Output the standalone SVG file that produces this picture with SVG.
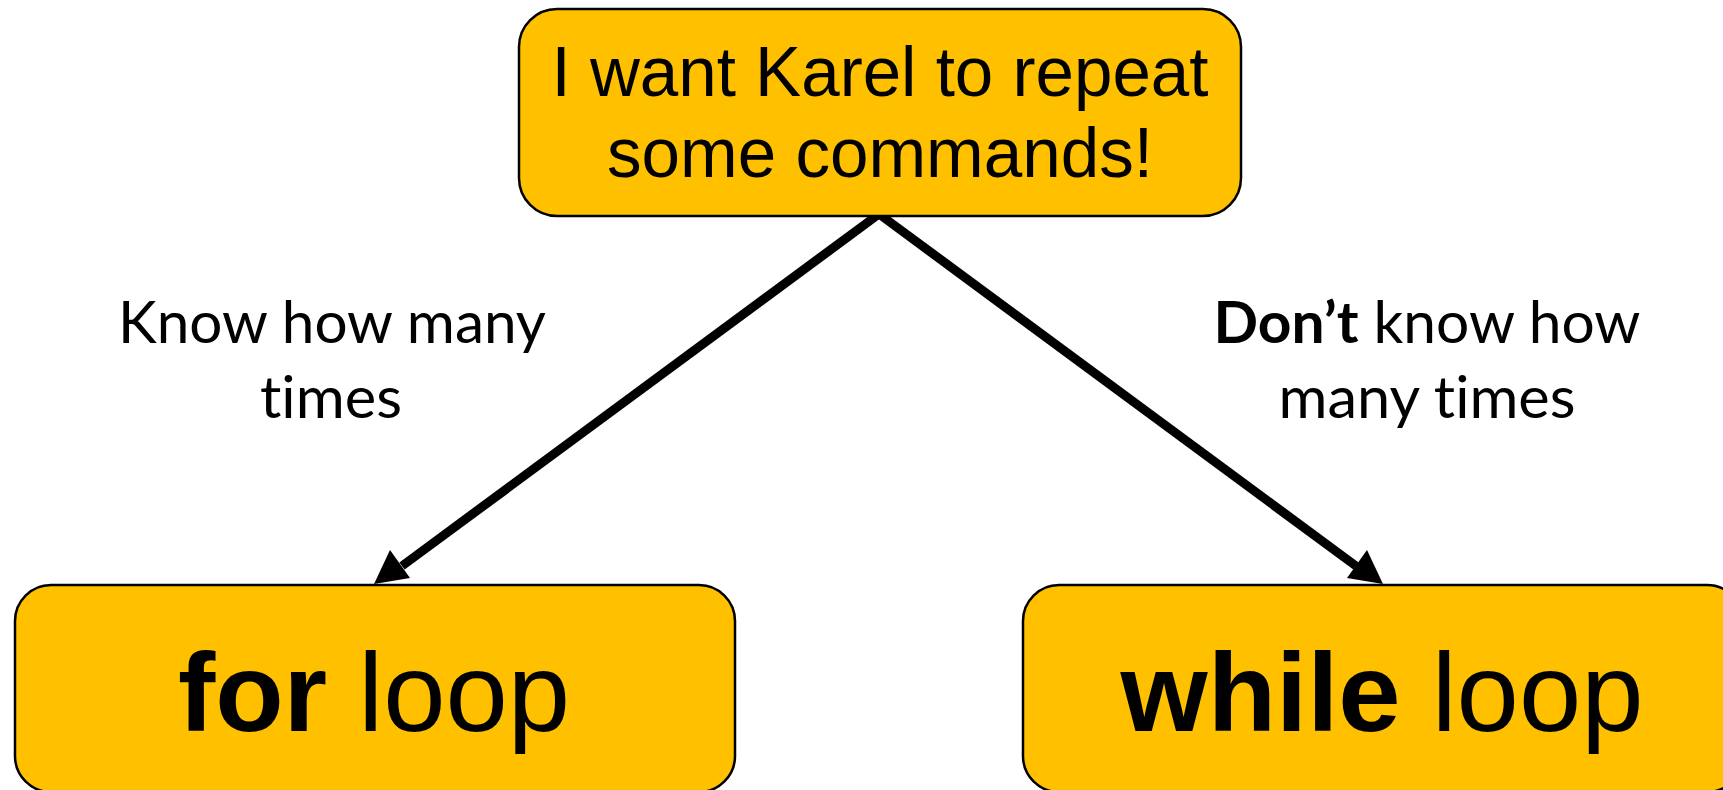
<svg xmlns="http://www.w3.org/2000/svg" width="1723" height="790" viewBox="0 0 1723 790">
<style>
.box{fill:#FFC000;stroke:#000;stroke-width:2.5}
.arial{font-family:"Liberation Sans",Arial,sans-serif;fill:#000}
.cal{font-family:Lato,"Open Sans",sans-serif;fill:#000;font-size:58px;font-variant-ligatures:none;font-feature-settings:"liga" 0}
.conn{stroke:#000;stroke-width:9;fill:none}
.head{fill:#000}
</style>
<rect width="1723" height="790" fill="#fff"/>
<g id="connectors">
<path class="conn" d="M879,214 L402,566"/>
<polygon class="head" points="374,584 410,578 390,550"/>
<path class="conn" d="M879,214 L1356,566"/>
<polygon class="head" points="1383,584 1347,578 1367,550"/>
</g>
<g id="start">
<rect class="box" x="519" y="9" width="722" height="207" rx="38" ry="38"/>
<text class="arial" x="880" y="96" font-size="71" text-anchor="middle" textLength="657" lengthAdjust="spacingAndGlyphs">I want Karel to repeat</text>
<text class="arial" x="880" y="177" font-size="71" text-anchor="middle" textLength="546" lengthAdjust="spacingAndGlyphs">some commands!</text>
</g>
<g id="for">
<rect class="box" x="15" y="585" width="720" height="207" rx="36" ry="36"/>
<text class="arial" x="374" y="731" font-size="112" text-anchor="middle"><tspan font-weight="bold">for</tspan> loop</text>
</g>
<g id="while">
<rect class="box" x="1023" y="585" width="720" height="207" rx="36" ry="36"/>
<text class="arial" x="1382" y="731" font-size="112" text-anchor="middle"><tspan font-weight="bold">while</tspan> loop</text>
</g>
<g id="label-known">
<text class="cal" x="332" y="343" text-anchor="middle" textLength="428" lengthAdjust="spacingAndGlyphs">Know how many</text>
<text class="cal" x="331" y="418" text-anchor="middle" textLength="142" lengthAdjust="spacingAndGlyphs">times</text>
</g>
<g id="label-unknown">
<text class="cal" x="1427" y="343" text-anchor="middle" textLength="427" lengthAdjust="spacingAndGlyphs"><tspan font-weight="bold">Don’t</tspan> know how</text>
<text class="cal" x="1427" y="418" text-anchor="middle" textLength="297" lengthAdjust="spacingAndGlyphs">many times</text>
</g>
</svg>
